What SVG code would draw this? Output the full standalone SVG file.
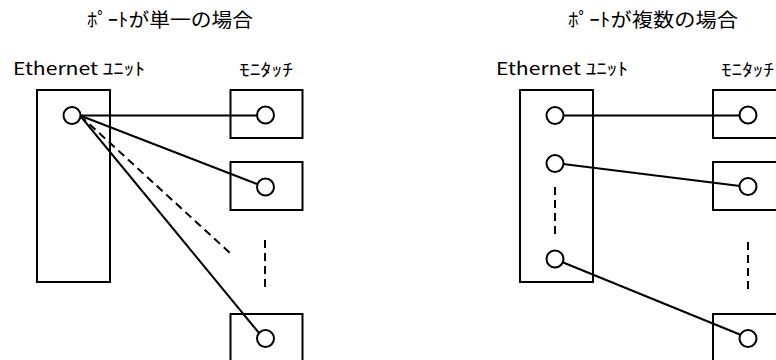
<svg xmlns="http://www.w3.org/2000/svg" width="776" height="360" viewBox="0 0 776 360">
<style>
.t{font-family:"Noto Sans CJK JP","Noto Sans",sans-serif;fill:#000}
.ti{font-size:19px}
.lb{font-size:17.5px}
.box{fill:#fff;stroke:#000;stroke-width:2}
.port{fill:#fff;stroke:#000;stroke-width:2}
.ln{fill:none;stroke:#000;stroke-width:2}
.dash{fill:none;stroke:#000;stroke-width:2;stroke-dasharray:8 5}
</style>
<rect width="776" height="360" fill="#fff"/>
<g id="titles">
<text class="t ti" x="87" y="27" textLength="166" lengthAdjust="spacingAndGlyphs">ﾎﾟｰﾄが単一の場合</text>
<text class="t ti" x="568" y="27" textLength="170" lengthAdjust="spacingAndGlyphs">ﾎﾟｰﾄが複数の場合</text>
</g>
<g id="left-ethernet">
<text class="t lb" x="13" y="75" textLength="132" lengthAdjust="spacingAndGlyphs">Ethernet ﾕﾆｯﾄ</text>
<rect class="box" x="37" y="90" width="73" height="192"/>
</g>
<g id="left-monitouch-label">
<text class="t lb" x="239" y="76" textLength="54" lengthAdjust="spacingAndGlyphs">ﾓﾆﾀｯﾁ</text>
</g>
<g id="left-mt1"><rect class="box" x="230.5" y="90" width="72" height="48"/></g>
<g id="left-mt2"><rect class="box" x="230.5" y="162" width="72" height="48"/></g>
<g id="left-mt3"><rect class="box" x="230.5" y="314" width="72" height="60"/></g>
<g id="right-ethernet">
<text class="t lb" x="496" y="75" textLength="132" lengthAdjust="spacingAndGlyphs">Ethernet ﾕﾆｯﾄ</text>
<rect class="box" x="520" y="90" width="73" height="192"/>
</g>
<g id="right-monitouch-label">
<text class="t lb" x="721" y="76" textLength="53" lengthAdjust="spacingAndGlyphs">ﾓﾆﾀｯﾁ</text>
</g>
<g id="right-mt1"><rect class="box" x="713" y="90" width="72" height="48"/></g>
<g id="right-mt2"><rect class="box" x="713" y="162" width="72" height="48"/></g>
<g id="right-mt3"><rect class="box" x="713" y="314" width="72" height="60"/></g>
<g id="connectors">
<line class="ln" x1="80" y1="115.5" x2="257" y2="115.5"/>
<line class="ln" x1="80" y1="115.5" x2="257" y2="184"/>
<line class="ln" x1="80" y1="115.5" x2="259" y2="333"/>
<line class="dash" x1="80" y1="115.5" x2="230" y2="253"/>
<line class="dash" x1="265" y1="240" x2="265" y2="288"/>
<line class="ln" x1="563" y1="115.5" x2="740" y2="115.5"/>
<line class="ln" x1="563" y1="164" x2="740" y2="186"/>
<line class="ln" x1="562" y1="262" x2="741" y2="335"/>
<line class="dash" x1="555" y1="187" x2="555" y2="237"/>
<line class="dash" x1="748" y1="242" x2="748" y2="290"/>
</g>
<g id="ports">
<circle class="port" cx="72" cy="115.5" r="8.5"/>
<circle class="port" cx="265.5" cy="115" r="8.5"/>
<circle class="port" cx="265.5" cy="187" r="8.5"/>
<circle class="port" cx="265.5" cy="338.5" r="8.5"/>
<circle class="port" cx="555" cy="115.5" r="8.5"/>
<circle class="port" cx="555" cy="163.5" r="8.5"/>
<circle class="port" cx="555" cy="259" r="8.5"/>
<circle class="port" cx="748" cy="115" r="8.5"/>
<circle class="port" cx="748" cy="186.5" r="8.5"/>
<circle class="port" cx="748" cy="338.5" r="8.5"/>
</g>
</svg>
